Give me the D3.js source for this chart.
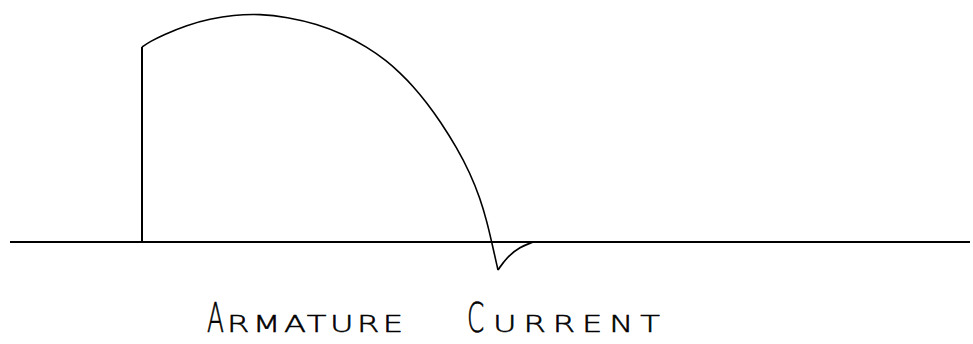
<!DOCTYPE html>
<html>
<head>
<meta charset="utf-8">
<script src="https://cdn.jsdelivr.net/npm/d3@7"></script>
<style>
html,body{margin:0;padding:0;background:#fff;}
svg{display:block;}
</style>
</head>
<body>
<svg id="chart" width="973" height="344"></svg>
<script>
// Time (arbitrary units) and armature current (arbitrary units)
const timeVals = [132, 132, 140, 153, 177, 200, 223, 250, 277, 307, 333, 357, 377, 390, 403, 417, 430, 447, 460, 470, 477, 481, 488];
const currentVals = [0, 195, 200.5, 207, 217, 223, 227, 228, 225, 218, 208, 195, 181, 169, 156, 139, 121, 94, 69, 44, 20, 3, -28];
const returnTime = [488, 497, 510, 523];
const returnCurrent = [-28, -15, -5, 0];
const axisTime = [0, 960];
const labelWords = ["Armature", "Current"];

const svg = d3.select("#chart");
const x = d3.scaleLinear().domain([0, 960]).range([10, 970]);
const y = d3.scaleLinear().domain([-30, 230]).range([272, 12]);

// baseline axis
svg.append("line")
  .attr("x1", x(axisTime[0])).attr("x2", x(axisTime[1]))
  .attr("y1", y(0)).attr("y2", y(0))
  .attr("stroke", "#000").attr("stroke-width", 2);

const smooth = d3.line().x(d => x(d[0])).y(d => y(d[1])).curve(d3.curveBasis);
const straight = d3.line().x(d => x(d[0])).y(d => y(d[1]));

const mainPts = timeVals.map((t, i) => [t, currentVals[i]]);
svg.append("path")
  .attr("d", straight(mainPts.slice(0, 2)))
  .attr("fill", "none").attr("stroke", "#000").attr("stroke-width", 2);
svg.append("path")
  .attr("d", smooth(mainPts.slice(1)))
  .attr("fill", "none").attr("stroke", "#000").attr("stroke-width", 1.6)
  .attr("stroke-linejoin", "round");
svg.append("path")
  .attr("d", smooth(returnTime.map((t, i) => [t, returnCurrent[i]])))
  .attr("fill", "none").attr("stroke", "#000").attr("stroke-width", 1.8);

// hand-lettered label: tall narrow initial, wide small caps
const words = [
  {w: labelWords[0], x0: 207, xs: 227, len: 176},
  {w: labelWords[1], x0: 467, xs: 493, len: 167}
];
const baseY = 332;
words.forEach(o => {
  svg.append("text")
    .attr("transform", `translate(${o.x0},${baseY}) scale(0.62,1)`)
    .attr("font-family", "DejaVu Sans")
    .attr("font-weight", 200)
    .attr("font-size", 40)
    .attr("fill", "#000").attr("stroke", "#000").attr("stroke-width", 0.6)
    .text(o.w[0]);
  const sx = 1.4;
  svg.append("text")
    .attr("transform", `translate(${o.xs},${baseY}) scale(${sx},1)`)
    .attr("font-family", "DejaVu Sans")
    .attr("font-weight", 200)
    .attr("font-size", 23)
    .attr("fill", "#000").attr("stroke", "#000").attr("stroke-width", 0.5)
    .attr("textLength", o.len / sx)
    .attr("lengthAdjust", "spacing")
    .text(o.w.slice(1).toUpperCase());
});
</script>
</body>
</html>
